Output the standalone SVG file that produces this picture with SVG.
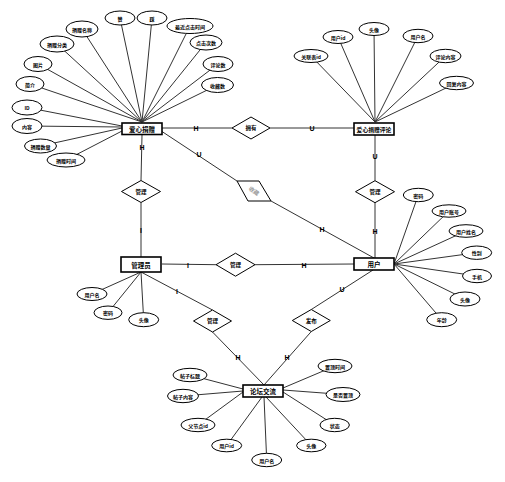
<svg xmlns="http://www.w3.org/2000/svg" width="505" height="482" viewBox="0 0 505 482">
<style>
.bg{fill:#fff}
.ln{stroke:#333;stroke-width:1;fill:none}
.at{fill:#fff;stroke:#000;stroke-width:1}
.ent{fill:#fff;stroke:#000;stroke-width:1.6}
.rel{fill:#fff;stroke:#000;stroke-width:1}
.t{font-family:"Noto Sans CJK SC","Liberation Sans",sans-serif;font-size:5px;font-weight:bold;fill:#000;text-anchor:middle;dominant-baseline:central}
.te{font-family:"Noto Sans CJK SC","Liberation Sans",sans-serif;font-size:6.5px;font-weight:bold;fill:#000;text-anchor:middle;dominant-baseline:central}
.tr{font-family:"Noto Sans CJK SC","Liberation Sans",sans-serif;font-size:5.5px;font-weight:bold;fill:#000;text-anchor:middle;dominant-baseline:central}
.c{font-family:"Liberation Sans",sans-serif;font-size:7px;font-weight:bold;fill:#000;text-anchor:middle;dominant-baseline:central}
</style>
<rect class="bg" x="0" y="0" width="505" height="482"/>
<g id="connectors">
<!-- attribute lines: donation -->
<path class="ln" d="M120,18L142,122M152,18L142,122M190,26L142,122M206,42.5L142,122M218,64L142,122M217.5,85L142,122M82,29L142,122M57,44L142,122M38,64L142,122M30,84L142,122M27,107.5L122,126M27,126L122,127M40.5,146L122,128M66,160L122,131"/>
<!-- comment attrs -->
<path class="ln" d="M311,56L375,122M338,37L375,122M374,29L375,122M418,36L375,122M445.5,56L375,122M456.5,83L375,122"/>
<!-- admin attrs -->
<path class="ln" d="M92,294L141,272M108,312.7L141,272M143.7,319.7L141,272"/>
<!-- user attrs -->
<path class="ln" d="M418.3,195L394,264M449,211L394,264M466,231L394,264M476.7,252.7L394,264M477,276L394,264M465,299L394,264M441.7,319.7L394,264"/>
<!-- forum attrs -->
<path class="ln" d="M190,375L243,389M183,396L243,391M198,425L243,392M226.7,445.5L262,397M266.7,460L264,397M311.3,445.5L266,397M334.7,425L283,392M343,394.5L283,390M335,366L283,388"/>
<!-- relationship lines -->
<path class="ln" d="M162,128L232,128M270,128L354,128"/>
<path class="ln" d="M142,135L141,180.5M141,202.5L141,257"/>
<path class="ln" d="M162,131.5L237,181M271,201L374,258"/>
<path class="ln" d="M375,135L375,180.7M375,202.7L375,258"/>
<path class="ln" d="M162,264L216,264.7M255,264.7L354,264"/>
<path class="ln" d="M141,272L212.5,310M212.5,332L264,385"/>
<path class="ln" d="M373,270L311.3,309.5M311.3,331.5L264,385"/>
<!-- cardinality -->
<text class="c" x="196" y="128">H</text>
<text class="c" x="312" y="128">U</text>
<text class="c" x="142" y="147">H</text>
<text class="c" x="141" y="230">I</text>
<text class="c" x="199" y="154">U</text>
<text class="c" x="322" y="229">H</text>
<text class="c" x="375" y="156">U</text>
<text class="c" x="375" y="231">H</text>
<text class="c" x="188" y="265">I</text>
<text class="c" x="304" y="265">H</text>
<text class="c" x="177" y="291">I</text>
<text class="c" x="238" y="357">H</text>
<text class="c" x="287" y="357">H</text>
<text class="c" x="342" y="289">U</text>
</g>

<g id="donation-attrs">
<ellipse class="at" cx="120" cy="18" rx="15" ry="7"/><text class="t" x="120" y="18">赞</text>
<ellipse class="at" cx="152" cy="18" rx="15" ry="7"/><text class="t" x="152" y="18">踩</text>
<ellipse class="at" cx="190" cy="26" rx="23" ry="7.5"/><text class="t" x="190" y="26">最近点击时间</text>
<ellipse class="at" cx="206" cy="42.5" rx="16" ry="7.5"/><text class="t" x="206" y="42.5">点击次数</text>
<ellipse class="at" cx="218" cy="64" rx="15" ry="7.5"/><text class="t" x="218" y="64">评论数</text>
<ellipse class="at" cx="217.5" cy="85" rx="16" ry="7.5"/><text class="t" x="217.5" y="85">收藏数</text>
<ellipse class="at" cx="82" cy="29" rx="16" ry="8"/><text class="t" x="82" y="29">捐赠名称</text>
<ellipse class="at" cx="57" cy="44" rx="17" ry="8"/><text class="t" x="57" y="44">捐赠分类</text>
<ellipse class="at" cx="38" cy="64" rx="14" ry="7.5"/><text class="t" x="38" y="64">图片</text>
<ellipse class="at" cx="30" cy="84" rx="14" ry="7.5"/><text class="t" x="30" y="84">简介</text>
<ellipse class="at" cx="27" cy="107.5" rx="15" ry="7.5"/><text class="t" x="27" y="107.5">ID</text>
<ellipse class="at" cx="27" cy="126" rx="15" ry="7.5"/><text class="t" x="27" y="126">内容</text>
<ellipse class="at" cx="40.5" cy="146" rx="16" ry="7"/><text class="t" x="40.5" y="146">捐赠数量</text>
<ellipse class="at" cx="66" cy="160" rx="19" ry="7"/><text class="t" x="66" y="160">捐赠时间</text>
</g>

<g id="comment-attrs">
<ellipse class="at" cx="311" cy="56" rx="17" ry="6.5"/><text class="t" x="311" y="56">关联表id</text>
<ellipse class="at" cx="338" cy="37" rx="15" ry="6.5"/><text class="t" x="338" y="37">用户id</text>
<ellipse class="at" cx="374" cy="29" rx="15" ry="6.5"/><text class="t" x="374" y="29">头像</text>
<ellipse class="at" cx="418" cy="36" rx="15" ry="6.7"/><text class="t" x="418" y="36">用户名</text>
<ellipse class="at" cx="445.5" cy="56" rx="15.5" ry="6.7"/><text class="t" x="445.5" y="56">评论内容</text>
<ellipse class="at" cx="456.5" cy="83" rx="17" ry="6.7"/><text class="t" x="456.5" y="83">回复内容</text>
</g>

<g id="admin-attrs">
<ellipse class="at" cx="92" cy="294" rx="15" ry="6.5"/><text class="t" x="92" y="294">用户名</text>
<ellipse class="at" cx="108" cy="312.7" rx="14" ry="6.7"/><text class="t" x="108" y="312.7">密码</text>
<ellipse class="at" cx="143.7" cy="319.7" rx="15" ry="7"/><text class="t" x="143.7" y="319.7">头像</text>
</g>

<g id="user-attrs">
<ellipse class="at" cx="418.3" cy="195" rx="15" ry="6.7"/><text class="t" x="418.3" y="195">密码</text>
<ellipse class="at" cx="449" cy="211" rx="17" ry="6.2"/><text class="t" x="449" y="211">用户账号</text>
<ellipse class="at" cx="466" cy="231" rx="17" ry="6.3"/><text class="t" x="466" y="231">用户姓名</text>
<ellipse class="at" cx="476.7" cy="252.7" rx="15" ry="6.7"/><text class="t" x="476.7" y="252.7">性别</text>
<ellipse class="at" cx="477" cy="276" rx="14.5" ry="6.7"/><text class="t" x="477" y="276">手机</text>
<ellipse class="at" cx="465" cy="299" rx="15" ry="7"/><text class="t" x="465" y="299">头像</text>
<ellipse class="at" cx="441.7" cy="319.7" rx="15" ry="7"/><text class="t" x="441.7" y="319.7">年龄</text>
</g>

<g id="forum-attrs">
<ellipse class="at" cx="190" cy="375" rx="17" ry="6.7"/><text class="t" x="190" y="375">帖子标题</text>
<ellipse class="at" cx="183" cy="396" rx="15.5" ry="6.7"/><text class="t" x="183" y="396">帖子内容</text>
<ellipse class="at" cx="198" cy="425" rx="17" ry="6.7"/><text class="t" x="198" y="425">父节点id</text>
<ellipse class="at" cx="226.7" cy="445.5" rx="15" ry="6.3"/><text class="t" x="226.7" y="445.5">用户id</text>
<ellipse class="at" cx="266.7" cy="460" rx="15" ry="6.7"/><text class="t" x="266.7" y="460">用户名</text>
<ellipse class="at" cx="311.3" cy="445.5" rx="14.7" ry="6.3"/><text class="t" x="311.3" y="445.5">头像</text>
<ellipse class="at" cx="334.7" cy="425" rx="14.7" ry="6.7"/><text class="t" x="334.7" y="425">状态</text>
<ellipse class="at" cx="343" cy="394.5" rx="17" ry="7"/><text class="t" x="343" y="394.5">是否置顶</text>
<ellipse class="at" cx="335" cy="366" rx="17" ry="6.7"/><text class="t" x="335" y="366">置顶时间</text>
</g>

<g id="rel-own"><polygon class="rel" points="232,128 251,117 270,128 251,139"/><text class="tr" x="251" y="128">拥有</text></g>
<g id="rel-admin-donation"><polygon class="rel" points="121.5,191.5 141,180.5 160.5,191.5 141,202.5"/><text class="tr" x="141" y="191.5">管理</text></g>
<g id="rel-user-comment"><polygon class="rel" points="355.5,191.7 375,180.7 394.5,191.7 375,202.7"/><text class="tr" x="375" y="191.7">管理</text></g>
<g id="rel-collect"><polygon class="rel" points="237,181 259,181 271,201 248,201"/><text class="tr" x="254" y="191" fill="#999" style="fill:#999" transform="rotate(35 254 191)">收藏</text></g>
<g id="rel-admin-user"><polygon class="rel" points="216,264.7 235.5,253.2 255,264.7 235.5,276.2"/><text class="tr" x="235.5" y="264.7">管理</text></g>
<g id="rel-admin-forum"><polygon class="rel" points="193.5,321 212.5,310 231.5,321 212.5,332"/><text class="tr" x="212.5" y="321">管理</text></g>
<g id="rel-user-forum"><polygon class="rel" points="292.3,320.5 311.3,309.5 330.3,320.5 311.3,331.5"/><text class="tr" x="311.3" y="320.5">发布</text></g>

<g id="ent-donation"><rect class="ent" x="122" y="123" width="40" height="11.5"/><text class="te" x="142" y="128.8">爱心捐赠</text></g>
<g id="ent-comment"><rect class="ent" x="354" y="123" width="40" height="12"/><text class="te" x="374" y="129" style="font-size:5.8px">爱心捐赠评论</text></g>
<g id="ent-admin"><rect class="ent" x="121" y="257" width="40" height="15"/><text class="te" x="141" y="264.5">管理员</text></g>
<g id="ent-user"><rect class="ent" x="354" y="258" width="40" height="12"/><text class="te" x="374" y="264">用户</text></g>
<g id="ent-forum"><rect class="ent" x="243" y="385" width="40" height="12"/><text class="te" x="263" y="391">论坛交流</text></g>
</svg>
